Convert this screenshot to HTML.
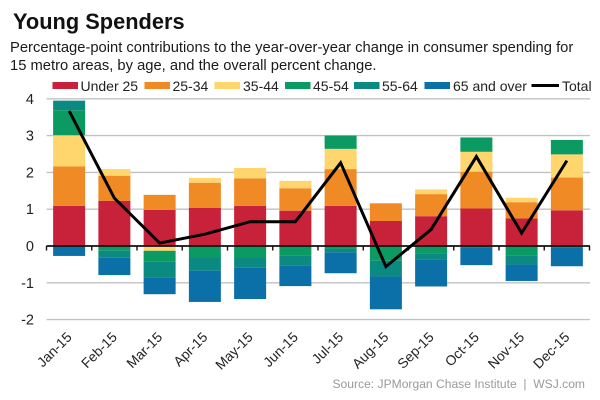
<!DOCTYPE html>
<html>
<head>
<meta charset="utf-8">
<style>
html,body{margin:0;padding:0;background:#fff;}
#chart{display:block;width:600px;height:400px;font-family:"Liberation Sans",Arial,sans-serif;filter:blur(0.3px);}
text{font-family:"Liberation Sans",Arial,sans-serif;}
</style>
</head>
<body>
<svg id="chart" xmlns="http://www.w3.org/2000/svg" width="600" height="400" viewBox="0 0 600 400">
  <text x="13" y="29" font-size="21.8" font-weight="700" fill="#111">Young Spenders</text>
  <text x="10" y="52" font-size="14.75" fill="#1a1a1a">Percentage-point contributions to the year-over-year change in consumer spending for</text>
  <text x="10" y="70" font-size="14.75" fill="#1a1a1a">15 metro areas, by age, and the overall percent change.</text>
  <g id="legend">
    <g><rect x="52.500" y="82" width="25.500" height="7" fill="#c8223a"/><text x="80.500" y="91" font-size="14" fill="#222">Under 25</text></g>
    <g><rect x="144.500" y="82" width="25.500" height="7" fill="#f08a24"/><text x="172.500" y="91" font-size="14" fill="#222">25-34</text></g>
    <g><rect x="214.500" y="82" width="25.500" height="7" fill="#ffd56e"/><text x="243" y="91" font-size="14" fill="#222">35-44</text></g>
    <g><rect x="285" y="82" width="25.500" height="7" fill="#0a9a62"/><text x="313" y="91" font-size="14" fill="#222">45-54</text></g>
    <g><rect x="354" y="82" width="25.500" height="7" fill="#0a8a80"/><text x="382" y="91" font-size="14" fill="#222">55-64</text></g>
    <g><rect x="424.500" y="82" width="25.500" height="7" fill="#0b6fa8"/><text x="453" y="91" font-size="14" fill="#222">65 and over</text></g>
    <g><line x1="531.500" y1="85.500" x2="559" y2="85.500" stroke="#000" stroke-width="3"/><text x="562" y="91" font-size="14" fill="#222">Total</text></g>
  </g>
  <g id="grid"></g>
  <g id="yaxis"></g>
  <g id="bars"></g>
  <g id="xaxis"></g>
  <g id="line"></g>
  <text x="585" y="388" text-anchor="end" font-size="12.1" fill="#9a9a9a">Source: JPMorgan Chase Institute&#160;&#160;|&#160;&#160;WSJ.com</text>
</svg>
<script>
const categories = ['Jan-15','Feb-15','Mar-15','Apr-15','May-15','Jun-15','Jul-15','Aug-15','Sep-15','Oct-15','Nov-15','Dec-15'];
const yTicks = [4,3,2,1,0,-1,-2];
const under25 = [1.09,1.23,0.98,1.04,1.09,0.96,1.09,0.68,0.81,1.02,0.75,0.97];
const age25to34 = [1.07,0.68,0.41,0.68,0.75,0.61,1.00,0.48,0.60,1.00,0.44,0.89];
const age35to44 = [0.85,0.18,0,0.13,0.28,0.20,0.55,0,0.13,0.54,0.12,0.63];
const age45to54 = [0.68,0,0,0,0,0,0.36,0,0,0.39,0,0.39];
const age55to64 = [0.26,0,0,0,0,0,0,0,0,0,0,0];
const neg35to44 = [0,0,-0.13,0,0,0,0,0,0,0,0,0];
const neg45to54 = [0,-0.13,-0.30,-0.30,-0.30,-0.25,-0.08,-0.40,-0.20,0,-0.25,0];
const neg55to64 = [0,-0.19,-0.43,-0.37,-0.29,-0.29,-0.09,-0.43,-0.17,-0.03,-0.25,-0.03];
const neg65over = [-0.27,-0.47,-0.45,-0.85,-0.85,-0.55,-0.57,-0.89,-0.73,-0.49,-0.45,-0.52];
const totals = [3.67,1.30,0.08,0.32,0.66,0.66,2.26,-0.56,0.45,2.43,0.35,2.32];

const NS = 'http://www.w3.org/2000/svg';
const y0 = 246, unit = 36.8, left = 46.5, step = 45.25, barW = 32, right = 590;
const yScale = v => y0 - v * unit;
const xCenter = i => left + step * i + step / 2;
function make(tag, parent, attrs) {
  const el = document.createElementNS(NS, tag);
  for (const k in attrs) el.setAttribute(k, attrs[k]);
  parent.appendChild(el);
  return el;
}
const gridG = document.getElementById('grid');
const yG = document.getElementById('yaxis');
yTicks.forEach(t => {
  if (t !== 0) {
    const g = make('line', gridG, {x1: left, x2: right, y1: yScale(t), y2: yScale(t), stroke: '#c2c2c2', 'stroke-width': 1.4});
    
    
  }
  const lab = make('text', yG, {x: 34, y: yScale(t) + 5, 'text-anchor': 'end', 'font-size': 14.5, fill: '#222'});
  lab.textContent = String(t);
  
  
});
const barsG = document.getElementById('bars');
const posStack = [[under25,'#c8223a'],[age25to34,'#f08a24'],[age35to44,'#ffd56e'],[age45to54,'#0a9a62'],[age55to64,'#0a8a80']];
const negStack = [[neg35to44,'#ffd56e'],[neg45to54,'#0a9a62'],[neg55to64,'#0a8a80'],[neg65over,'#0b6fa8']];
categories.forEach((c, i) => {
  [posStack, negStack].forEach(stack => {
    let acc = 0;
    stack.forEach(s => {
      const v = s[0][i];
      if (!v) return;
      const a = yScale(acc), b = yScale(acc + v);
      const r = make('rect', barsG, {x: xCenter(i) - barW / 2, y: Math.min(a, b), width: barW, height: Math.abs(a - b), fill: s[1]});
      
      
      acc += v;
    });
  });
});
const xG = document.getElementById('xaxis');
const axisLine = make('line', xG, {x1: left, x2: right, y1: y0, y2: y0, stroke: '#111', 'stroke-width': 1.8});


for (let i = 0; i <= categories.length; i++) {
  const tx = left + step * i;
  const tick = make('line', xG, {x1: tx, x2: tx, y1: y0, y2: y0 + 4.5, stroke: '#111', 'stroke-width': 1.4});
  
  
}
categories.forEach((c, i) => {
  const tx = xCenter(i) + 3.5, ty = 338;
  const lab = make('text', xG, {x: tx, y: ty, 'text-anchor': 'end', 'font-size': 13.8, fill: '#222', transform: 'rotate(-45 ' + tx + ' ' + ty + ')'});
  lab.textContent = c;
  
  
});
const pts = totals.map((v, i) => xCenter(i) + ',' + yScale(v)).join(' ');
const lineEl = make('polyline', document.getElementById('line'), {points: pts, fill: 'none', stroke: '#000', 'stroke-width': 3, 'stroke-linejoin': 'miter'});


</script>
</body>
</html>
